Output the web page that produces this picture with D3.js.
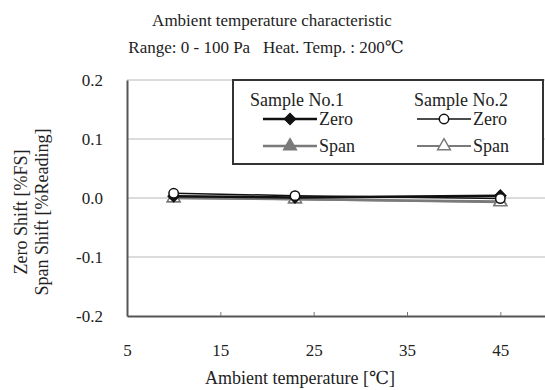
<!DOCTYPE html>
<html>
<head>
<meta charset="utf-8">
<script src="https://cdn.jsdelivr.net/npm/d3@7"></script>
<style>
  body { margin: 0; background: #fff; }
  text { font-family: "Liberation Serif", "DejaVu Serif", serif; fill: #222; }
</style>
</head>
<body>
<svg id="chart"></svg>
<script>
// ambient temperature [C]
var temps = [10, 23, 45];
// shift values
var s1Zero = [0.003, 0.001, 0.004];
var s1Span = [0.000, -0.002, -0.006];
var s2Zero = [0.008, 0.004, -0.001];
var s2Span = [0.000, -0.002, -0.007];
var xTicks = [5, 15, 25, 35, 45];
var yTicks = [-0.2, -0.1, 0.0, 0.1, 0.2];

var W = 545, H = 390;
var x = d3.scaleLinear().domain([5, 50]).range([127, 547]);
var y = d3.scaleLinear().domain([-0.2, 0.2]).range([316, 80]);

var svg = d3.select("#chart")
  .attr("width", W)
  .attr("height", H);

// titles
svg.append("text")
  .attr("x", 272).attr("y", 26)
  .attr("text-anchor", "middle")
  .attr("font-size", 17)
  .text("Ambient temperature characteristic");

svg.append("text")
  .attr("x", 266).attr("y", 53)
  .attr("text-anchor", "middle")
  .attr("font-size", 17)
  .text("Range: 0 - 100 Pa\u00a0\u00a0\u00a0Heat. Temp. : 200\u2103");

// gridlines
svg.append("g")
  .selectAll("line")
  .data(yTicks.filter(function(d) { return d > -0.2; }))
  .enter()
  .append("line")
  .attr("x1", x(5)).attr("x2", W)
  .attr("y1", function(d) { return y(d); })
  .attr("y2", function(d) { return y(d); })
  .attr("stroke", "#b8b8b8")
  .attr("stroke-width", 1);

// axes
var xAxis = svg.append("g")
  .attr("transform", "translate(0," + y(-0.2) + ")")
  .call(d3.axisBottom(x).tickValues(xTicks).tickSizeInner(-4).tickSizeOuter(0).tickPadding(28).tickFormat(d3.format("d")));
xAxis.select(".domain").attr("stroke", "#555").attr("stroke-width", 2);
xAxis.selectAll(".tick line").attr("stroke", "#777");
xAxis.selectAll("text").attr("font-size", 17).attr("font-family", "Liberation Serif").attr("fill", "#222");

var yAxis = svg.append("g")
  .attr("transform", "translate(" + x(5) + ",0)")
  .call(d3.axisLeft(y).tickValues(yTicks).tickSize(0).tickPadding(24)
    .tickFormat(function(d) { return d3.format(".1f")(d).replace("\u2212", "-"); }));
yAxis.select(".domain").attr("stroke", "#555").attr("stroke-width", 2);
yAxis.selectAll("text").attr("font-size", 17).attr("font-family", "Liberation Serif").attr("fill", "#222");

svg.append("text")
  .attr("x", 300).attr("y", 384)
  .attr("text-anchor", "middle")
  .attr("font-size", 18)
  .text("Ambient temperature [\u2103]");

svg.append("text")
  .attr("transform", "translate(27,212) rotate(-90)")
  .attr("text-anchor", "middle")
  .attr("font-size", 18)
  .text("Zero Shift [%FS]");

svg.append("text")
  .attr("transform", "translate(48,212) rotate(-90)")
  .attr("text-anchor", "middle")
  .attr("font-size", 18)
  .text("Span Shift [%Reading]");

// series
var series = [
  { name: "s1Span", values: s1Span, color: "#7a7a7a", width: 2.5, marker: "triangle", fill: "#7a7a7a" },
  { name: "s2Span", values: s2Span, color: "#7a7a7a", width: 2, marker: "triangle", fill: "#fff" },
  { name: "s1Zero", values: s1Zero, color: "#111", width: 2.5, marker: "diamond", fill: "#111" },
  { name: "s2Zero", values: s2Zero, color: "#111", width: 1.5, marker: "circle", fill: "#fff" }
];

var line = d3.line()
  .x(function(d, i) { return x(temps[i]); })
  .y(function(d) { return y(d); });

var sym = {
  triangle: d3.symbol().type(d3.symbolTriangle).size(70),
  diamond: d3.symbol().type(d3.symbolSquare).size(60),
  circle: d3.symbol().type(d3.symbolCircle).size(70)
};

series.forEach(function(s) {
  svg.append("path")
    .datum(s.values)
    .attr("d", line)
    .attr("fill", "none")
    .attr("stroke", s.color)
    .attr("stroke-width", s.width);
  svg.selectAll("." + s.name)
    .data(s.values)
    .enter()
    .append("path")
    .attr("class", s.name)
    .attr("d", sym[s.marker]())
    .attr("transform", function(d, i) {
      return "translate(" + x(temps[i]) + "," + y(d) + ")" + (s.marker === "diamond" ? " rotate(45)" : "");
    })
    .attr("fill", s.fill)
    .attr("stroke", s.color)
    .attr("stroke-width", 1.5);
});

// legend
var lg = svg.append("g");
lg.append("rect")
  .attr("x", 233).attr("y", 80)
  .attr("width", 310).attr("height", 84)
  .attr("fill", "#fff")
  .attr("stroke", "#333")
  .attr("stroke-width", 2);

var cols = [
  { title: "Sample No.1", tx: 297, lx: 263, zero: series[2], span: series[0] },
  { title: "Sample No.2", tx: 461, lx: 417, zero: series[3], span: series[1] }
];

cols.forEach(function(c) {
  lg.append("text")
    .attr("x", c.tx).attr("y", 106)
    .attr("text-anchor", "middle")
    .attr("font-size", 18)
    .text(c.title);
  [[c.zero, 119, "Zero"], [c.span, 146, "Span"]].forEach(function(r) {
    var s = r[0];
    lg.append("line")
      .attr("x1", c.lx).attr("x2", c.lx + 54)
      .attr("y1", r[1]).attr("y2", r[1])
      .attr("stroke", s.color)
      .attr("stroke-width", s.width);
    lg.append("path")
      .attr("d", sym[s.marker]())
      .attr("transform", "translate(" + (c.lx + 27) + "," + r[1] + ")" + (s.marker === "diamond" ? " rotate(45)" : ""))
      .attr("fill", s.fill)
      .attr("stroke", s.color)
      .attr("stroke-width", 1.5);
    lg.append("text")
      .attr("x", c.lx + 56).attr("y", r[1] + 6)
      .attr("font-size", 18)
      .text(r[2]);
  });
});
</script>
</body>
</html>
